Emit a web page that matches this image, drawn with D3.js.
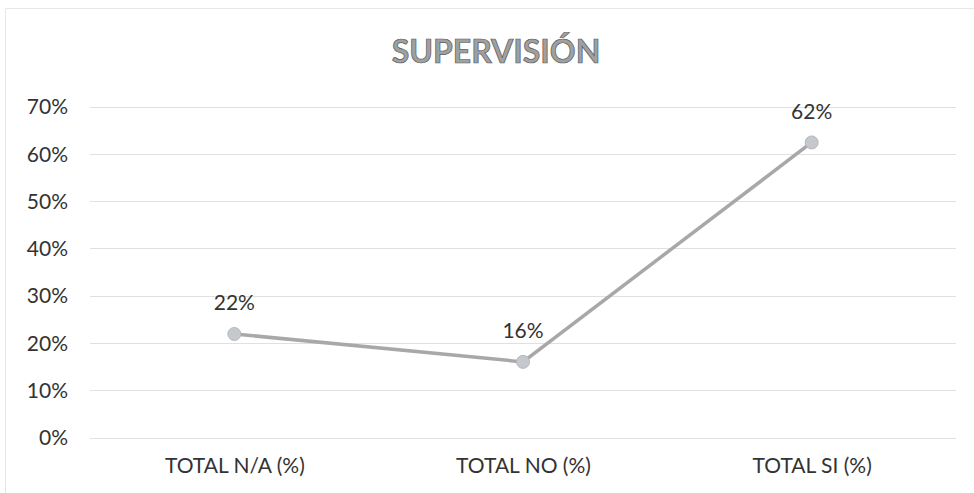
<html>
  <head>
    <meta charset="utf-8">
    <title>Supervisión</title>
    <script src="https://cdn.jsdelivr.net/npm/d3@7"></script>
    <style>
body { margin: 0; background: #fff; }
text { font-family: Lato, "Open Sans", sans-serif; fill: #333; }
.grid line { stroke: #e0e0e0; stroke-width: 1px; shape-rendering: crispEdges; }
.axis path, .axis line { display: none; }
    </style>
  </head>
  <body>
    <script>

var categories = ["TOTAL N/A (%)", "TOTAL NO (%)", "TOTAL SI (%)"];
var values = [0.22, 0.161, 0.625];
var labels = ["22%", "16%", "62%"];
var yTicks = [0, 0.1, 0.2, 0.3, 0.4, 0.5, 0.6, 0.7];

var W = 974, H = 493;
var m = {top: 107, right: 18, bottom: 55, left: 90};
var w = W - m.left - m.right,
    h = H - m.top - m.bottom;

var svg = d3.select("body").append("svg")
    .attr("width", W)
    .attr("height", H);

// faint frame of the scanned chart
svg.append("path")
    .attr("d", "M5.5," + H + "V8.5H" + W)
    .attr("fill", "none")
    .attr("stroke", "#e6e6e6");

svg.append("text")
    .attr("x", 496)
    .attr("y", 52)
    .attr("dy", ".35em")
    .attr("text-anchor", "middle")
    .style("font-size", "32px")
    .style("font-weight", "bold")
    .style("fill", "#a0a0a0")
    .style("stroke", "#5a5a5a")
    .style("stroke-width", "0.7px")
    .text("SUPERVISIÓN");

var g = svg.append("g")
    .attr("transform", "translate(" + m.left + "," + m.top + ")");

var x = d3.scalePoint().domain(categories).range([0, w]).padding(0.5);
var y = d3.scaleLinear().domain([0, 0.7]).range([h, 0]);

g.append("g").attr("class", "grid")
  .selectAll("line")
    .data(yTicks)
  .enter().append("line")
    .attr("x1", 0)
    .attr("x2", w)
    .attr("y1", function(d) { return y(d); })
    .attr("y2", function(d) { return y(d); });

var yAxis = g.append("g").attr("class", "axis")
    .call(d3.axisLeft(y).tickValues(yTicks).tickFormat(d3.format(".0%")).tickSize(0).tickPadding(22));
yAxis.selectAll("text").style("font-size", "21px");

var xAxis = g.append("g").attr("class", "axis")
    .attr("transform", "translate(0," + h + ")")
    .call(d3.axisBottom(x).tickSize(0).tickPadding(20));
xAxis.selectAll("text").style("font-size", "21px");

var line = d3.line()
    .x(function(d, i) { return x(categories[i]); })
    .y(function(d) { return y(d); });

g.append("path")
    .datum(values)
    .attr("fill", "none")
    .attr("stroke", "#a8a8a8")
    .attr("stroke-width", 3.5)
    .attr("d", line);

g.selectAll("circle.dot")
    .data(values)
  .enter().append("circle")
    .attr("class", "dot")
    .attr("cx", function(d, i) { return x(categories[i]); })
    .attr("cy", function(d) { return y(d); })
    .attr("r", 6.5)
    .attr("fill", "#c5c9ce")
    .attr("stroke", "#b5b9be")
    .attr("stroke-width", 1);

g.selectAll("text.lbl")
    .data(values)
  .enter().append("text")
    .attr("class", "lbl")
    .attr("x", function(d, i) { return x(categories[i]); })
    .attr("y", function(d) { return y(d) - 31; })
    .attr("dy", ".35em")
    .attr("text-anchor", "middle")
    .style("font-size", "21px")
    .text(function(d, i) { return labels[i]; });

    </script>
  </body>
</html>
